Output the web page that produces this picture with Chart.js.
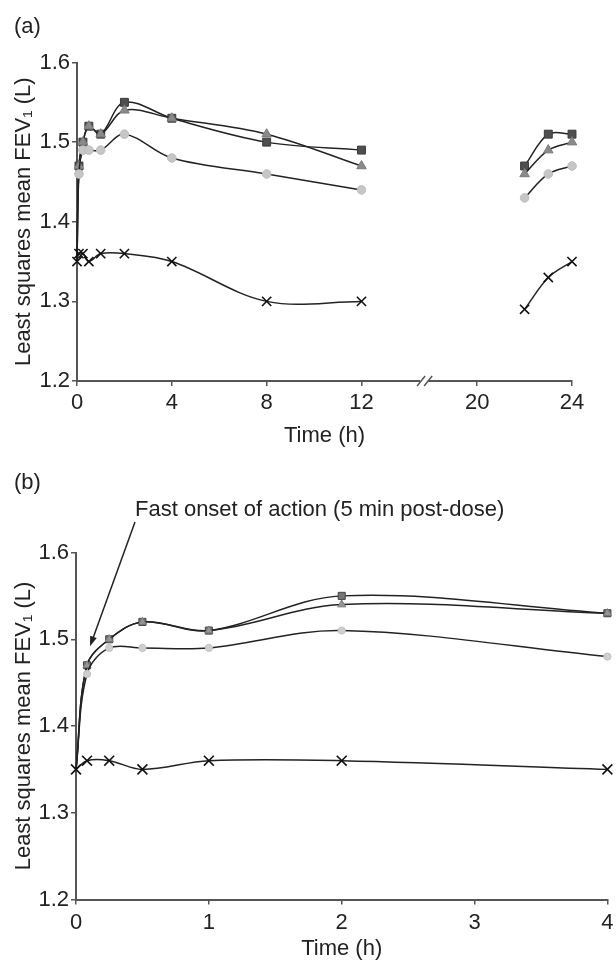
<!DOCTYPE html>
<html>
<head>
<meta charset="utf-8">
<script src="https://cdn.jsdelivr.net/npm/chart.js@4.4.1/dist/chart.umd.min.js"></script>
<style>
  html, body { margin: 0; padding: 0; background: #fff; overflow: hidden; }
  #page { position: relative; width: 616px; height: 962px; font-family: "Liberation Sans", Arial, sans-serif; color: #222; }
  canvas { position: absolute; left: 0; }
  .lbl { position: absolute; font-size: 22px; line-height: 22px; white-space: nowrap; }
</style>
</head>
<body>
<div id="page">
  <canvas id="chartA" width="616" height="460" style="top:0"></canvas>
  <canvas id="chartB" width="616" height="502" style="top:460px"></canvas>
  <div class="lbl" style="left:14px; top:15px">(a)</div>
  <div class="lbl" style="left:14px; top:471px">(b)</div>
  <div class="lbl" id="note" style="left:135px; top:498px">Fast onset of action (5 min post-dose)</div>
</div>
<script>
// time points (h) and least squares mean FEV1 (L)
const timeHours = [0, 0.083, 0.25, 0.5, 1, 2, 4, 8, 12, 22, 23, 24];
const squareSeries   = [1.35, 1.47, 1.50, 1.52, 1.51, 1.55, 1.53, 1.50, 1.49, 1.47, 1.51, 1.51];
const triangleSeries = [1.35, 1.47, 1.50, 1.52, 1.51, 1.54, 1.53, 1.51, 1.47, 1.46, 1.49, 1.50];
const circleSeries   = [1.35, 1.46, 1.49, 1.49, 1.49, 1.51, 1.48, 1.46, 1.44, 1.43, 1.46, 1.47];
const crossSeries    = [1.35, 1.36, 1.36, 1.35, 1.36, 1.36, 1.35, 1.30, 1.30, 1.29, 1.33, 1.35];

const yTicks = [1.2, 1.3, 1.4, 1.5, 1.6];
const xTicksA = [0, 4, 8, 12, 20, 24];
const xTicksB = [0, 1, 2, 3, 4];

// panel (a) has a broken time axis between 12 h and 20 h
const breakStart = 12;
const breakEnd = 20;
const breakWidth = 4.88; // how much room the break takes, in axis units

function axisPos(t) {
    return t <= breakStart ? t : t - breakEnd + breakStart + breakWidth;
}

const FONT = { family: '"Liberation Sans", Arial, sans-serif', size: 22 };
const INK = '#222';
const AXIS = '#555';

// marker look per series, panel (a) then panel (b)
const seriesStyles = [
    { values: squareSeries,   pointStyle: 'rect',     a: { fill: '#4f4f4f', edge: '#3a3a3a', r: 5.6 }, b: { fill: '#767676', edge: '#444', r: 5 } },
    { values: triangleSeries, pointStyle: 'triangle', a: { fill: '#8a8a8a', edge: '#7a7a7a', r: 5.5 }, b: { fill: '#959595', edge: '#777', r: 4.6 } },
    { values: circleSeries,   pointStyle: 'circle',   a: { fill: '#c6c6c6', edge: '#bdbdbd', r: 4.3 }, b: { fill: '#cfcfcf', edge: '#c2c2c2', r: 3.6 } },
    { values: crossSeries,    pointStyle: 'crossRot', a: { fill: '#111',    edge: '#111',    r: 6.5 }, b: { fill: '#111',    edge: '#111',    r: 7 } }
];

function makeDatasets(panel) {
    return seriesStyles.map((s, k) => {
        const points = [];
        timeHours.forEach((t, i) => {
            if (panel === 'b' && t > 4) return;
            if (panel === 'a' && i > 0 && timeHours[i - 1] <= breakStart && t >= breakEnd) {
                points.push({ x: axisPos(breakStart) + 0.5, y: null }); // gap across the break
            }
            points.push({ x: panel === 'a' ? axisPos(t) : t, y: s.values[i] });
        });
        const look = s[panel];
        const isCross = s.pointStyle === 'crossRot';
        return {
            data: points,
            borderColor: INK,
            borderWidth: 1.5,
            tension: 0.35,
            spanGaps: false,
            clip: false,
            pointStyle: s.pointStyle,
            // the treated arms start on the placebo X at 0 h, no own marker there
            pointRadius: ctx => (!isCross && ctx.dataIndex === 0) ? 0 : look.r,
            pointBackgroundColor: look.fill,
            pointBorderColor: look.edge,
            pointBorderWidth: isCross ? 1.6 : 1,
            order: 3 - k
        };
    });
}

function yScale(axisWidth) {
    return {
        min: 1.2, max: 1.6,
        afterBuildTicks: scale => { scale.ticks = yTicks.map(v => ({ value: v })); },
        afterFit: scale => { scale.width = axisWidth; },
        ticks: { font: FONT, color: INK, padding: 2, callback: v => v.toFixed(1) },
        grid: { drawOnChartArea: false, tickLength: 5, color: AXIS, lineWidth: 1.5 },
        border: { color: AXIS, width: 2 },
        title: { display: true, text: 'Least squares mean FEV\u2081 (L)', font: FONT, color: INK, padding: { top: 11, bottom: 0 } }
    };
}

// panel (a)
const breakMarks = {
    id: 'breakMarks',
    afterDraw(chart) {
        const ctx = chart.ctx;
        const x = chart.scales.x.getPixelForValue(breakStart + breakWidth * 0.55);
        const y = chart.chartArea.bottom;
        ctx.save();
        ctx.fillStyle = '#fff';
        ctx.fillRect(x - 5, y - 3, 8, 6);
        ctx.strokeStyle = AXIS;
        ctx.lineWidth = 1.5;
        [-4, 3].forEach(dx => {
            ctx.beginPath();
            ctx.moveTo(x + dx - 4, y + 5);
            ctx.lineTo(x + dx + 4, y - 5);
            ctx.stroke();
        });
        ctx.restore();
    }
};

new Chart(document.getElementById('chartA'), {
    type: 'line',
    data: { datasets: makeDatasets('a') },
    options: {
        responsive: false,
        animation: false,
        layout: { padding: { top: 62.5, right: 44, left: 0, bottom: 0 } },
        plugins: { legend: { display: false }, tooltip: { enabled: false } },
        scales: {
            x: {
                type: 'linear',
                min: 0, max: axisPos(24),
                afterBuildTicks: scale => { scale.ticks = xTicksA.map(v => ({ value: axisPos(v) })); },
                afterFit: scale => { scale.height = 79; },
                ticks: { font: FONT, color: INK, padding: 4, callback: (v, i) => xTicksA[i] },
                grid: { drawOnChartArea: false, tickLength: 5, color: AXIS, lineWidth: 1.5 },
                border: { color: AXIS, width: 2 },
                title: { display: true, text: 'Time (h)', font: FONT, color: INK, padding: { top: 0, bottom: 11 } }
            },
            y: yScale(77)
        }
    },
    plugins: [breakMarks]
});

// panel (b)
const onsetArrow = {
    id: 'onsetArrow',
    afterDraw(chart) {
        const ctx = chart.ctx;
        const note = document.getElementById('note');
        const canvasTop = chart.canvas.offsetTop;
        const tipX = chart.scales.x.getPixelForValue(timeHours[1]) + 3;
        const tipY = chart.scales.y.getPixelForValue(squareSeries[1]) - 19;
        const tailX = note.offsetLeft;
        const tailY = note.offsetTop + note.offsetHeight - canvasTop + 2;
        const ang = Math.atan2(tipY - tailY, tipX - tailX);
        ctx.save();
        ctx.strokeStyle = INK;
        ctx.fillStyle = INK;
        ctx.lineWidth = 1.5;
        ctx.beginPath();
        ctx.moveTo(tailX, tailY);
        ctx.lineTo(tipX - 6 * Math.cos(ang), tipY - 6 * Math.sin(ang));
        ctx.stroke();
        ctx.beginPath();
        ctx.moveTo(tipX, tipY);
        ctx.lineTo(tipX - 10 * Math.cos(ang) + 3.5 * Math.sin(ang), tipY - 10 * Math.sin(ang) - 3.5 * Math.cos(ang));
        ctx.lineTo(tipX - 10 * Math.cos(ang) - 3.5 * Math.sin(ang), tipY - 10 * Math.sin(ang) + 3.5 * Math.cos(ang));
        ctx.closePath();
        ctx.fill();
        ctx.restore();
    }
};

new Chart(document.getElementById('chartB'), {
    type: 'line',
    data: { datasets: makeDatasets('b') },
    options: {
        responsive: false,
        animation: false,
        layout: { padding: { top: 92.5, right: 3.5, left: 0, bottom: 0 } },
        plugins: { legend: { display: false }, tooltip: { enabled: false } },
        scales: {
            x: {
                type: 'linear',
                min: 0, max: 4,
                afterBuildTicks: scale => { scale.ticks = xTicksB.map(v => ({ value: v })); },
                afterFit: scale => { scale.height = 62.5; scale.paddingRight = 0; },
                ticks: { font: FONT, color: INK, padding: 5, callback: (v, i) => xTicksB[i] },
                grid: { drawOnChartArea: false, tickLength: 5, color: AXIS, lineWidth: 1.5 },
                border: { color: AXIS, width: 2 },
                title: { display: true, text: 'Time (h)', font: FONT, color: INK, padding: { top: 0, bottom: 0 } }
            },
            y: yScale(76)
        }
    },
    plugins: [onsetArrow]
});
</script>
</body>
</html>
